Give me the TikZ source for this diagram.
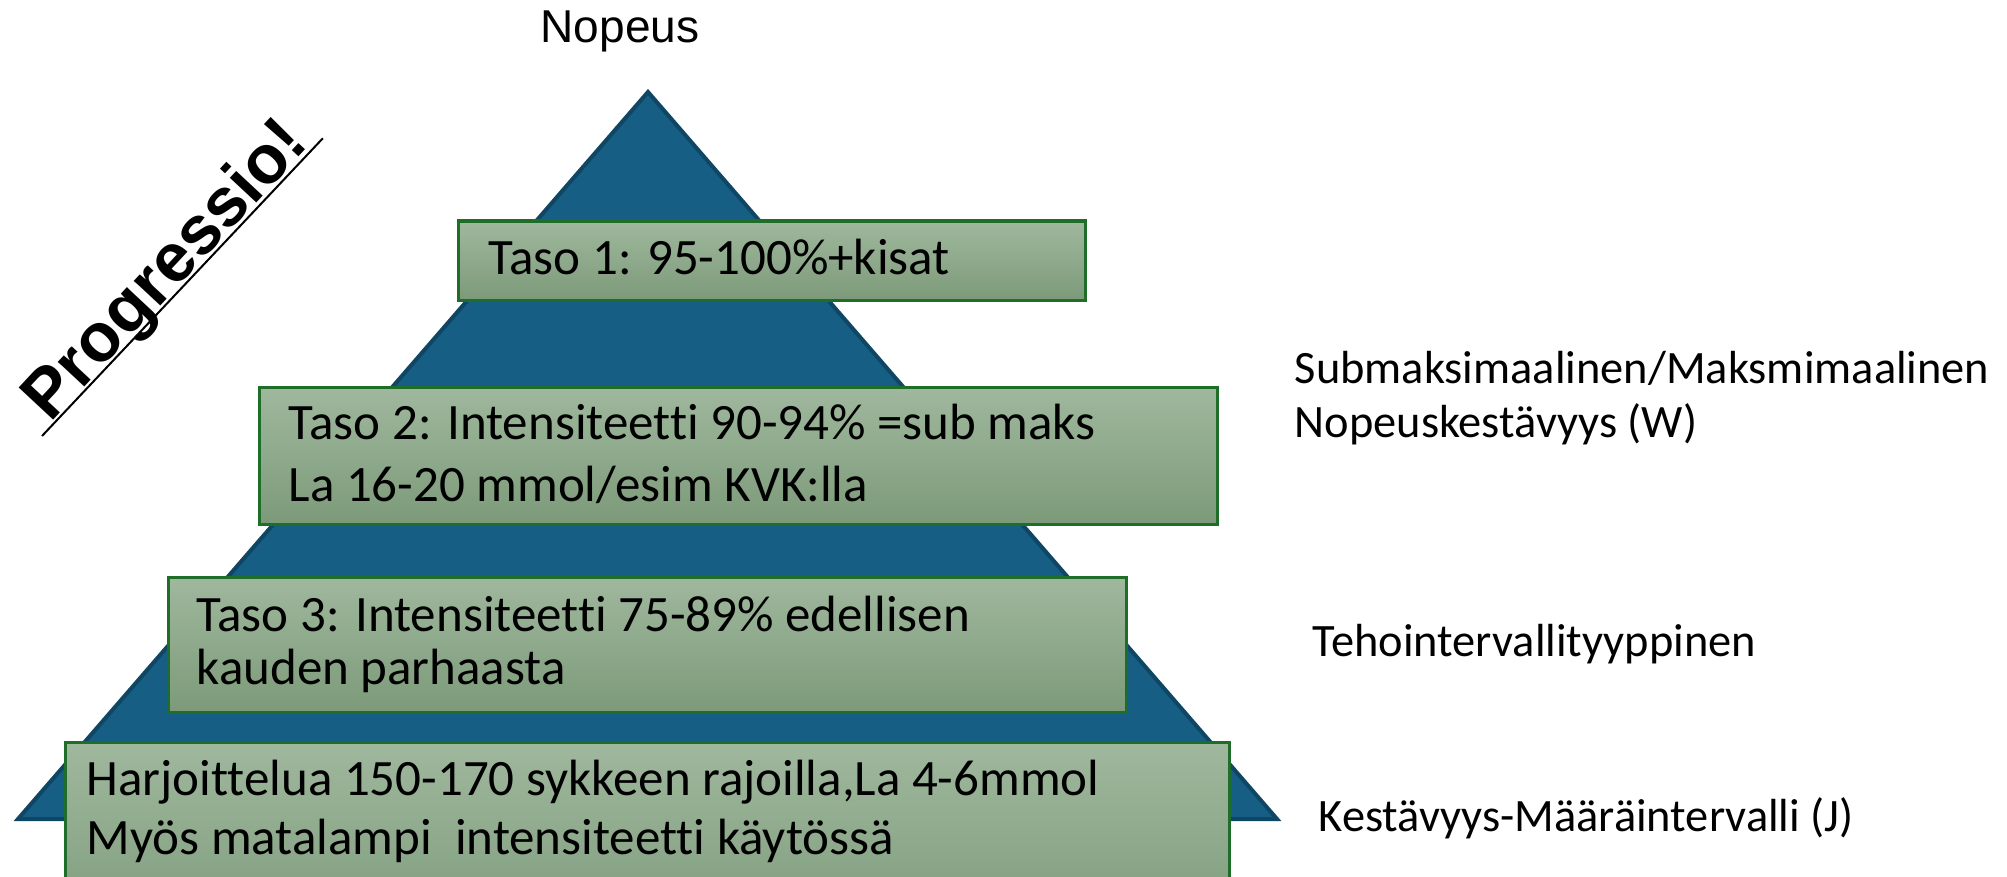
\documentclass[tikz,border=0pt]{standalone}
\usepackage{fontspec}
\setmainfont{Liberation Sans}
\newfontfamily\aptos[Ligatures=NoCommon]{Carlito}
\usetikzlibrary{calc}
\definecolor{pyrfill}{RGB}{22,94,131}
\definecolor{pyrline}{RGB}{14,70,100}
\definecolor{boxtop}{RGB}{160,184,158}
\definecolor{boxbot}{RGB}{124,154,121}
\definecolor{boxline}{RGB}{30,110,42}
\begin{document}
\begin{tikzpicture}[x=0.01cm,y=-0.01cm,
  pyr/.style={draw=pyrline,fill=pyrfill,line width=0.4mm},
  tier/.style={draw=boxline,line width=0.3mm,top color=boxtop,bottom color=boxbot,
    anchor=north west,inner sep=0pt,outer sep=0pt},
  boxtext/.style={anchor=base west,inner sep=0pt,font=\aptos\fontsize{14.5pt}{17pt}\selectfont},
  sidetext/.style={anchor=base west,inner sep=0pt,font=\aptos\fontsize{13.2pt}{16pt}\selectfont}]
\clip (0,0) rectangle (2007,876);
\fill[white] (0,0) rectangle (2007,876);
% pyramid
\coordinate (apex) at (648,92);
\coordinate (bl) at (18,819);
\coordinate (br) at (1277,819);
\draw[pyr] (apex) -- (br) -- (bl) -- cycle;
% tiers
\node[tier,minimum width=6.27cm,minimum height=0.79cm] (b1) at (458,221) {};
\node[tier,minimum width=9.58cm,minimum height=1.37cm] (b2) at (259,387) {};
\node[tier,minimum width=9.58cm,minimum height=1.35cm] (b3) at (168,577) {};
\node[tier,minimum width=11.64cm,minimum height=2.0cm] (b4) at (65,742) {};
% tier texts
\node[boxtext] (t1) at (488,274) {Taso 1: 95-100\%+kisat};
\node[boxtext] (t2a) at (288,439) {Taso 2: Intensiteetti 90-94\% =sub maks};
\node[boxtext] (t2b) at (288,501) {La 16-20 mmol/esim KVK:lla};
\node[boxtext] (t3a) at (196,631) {Taso 3: Intensiteetti 75-89\% edellisen};
\node[boxtext] (t3b) at (196,684) {kauden parhaasta};
\node[boxtext] (t4a) at (86,795) {Harjoittelua 150-170 sykkeen rajoilla,La 4-6mmol};
\node[boxtext] (t4b) at (86,854) {Myös matalampi\ \ intensiteetti käytössä};
% side labels
\node[sidetext] (s1a) at (1294,383) {Submaksimaalinen/Maksmimaalinen};
\node[sidetext] (s1b) at (1294,437) {Nopeuskestävyys (W)};
\node[sidetext] (s2) at (1312,656) {Tehointervallityyppinen};
\node[sidetext] (s3) at (1318,831) {Kestävyys-Määräintervalli (J)};
% top label
\node[anchor=base,inner sep=0pt,font=\fontsize{13.1pt}{16pt}\selectfont] (nop) at (620,43) {Nopeus};
% Progressio
\node[anchor=base west,rotate=47,inner sep=0pt,font=\bfseries\fontsize{19.5pt}{24pt}\selectfont] (prog) at (50,424) {Progressio!};
\draw[line width=0.2mm] ($(prog.base west)+(-8,12)$) -- ($(prog.base east)+(12,-6)$);
\end{tikzpicture}
\end{document}
